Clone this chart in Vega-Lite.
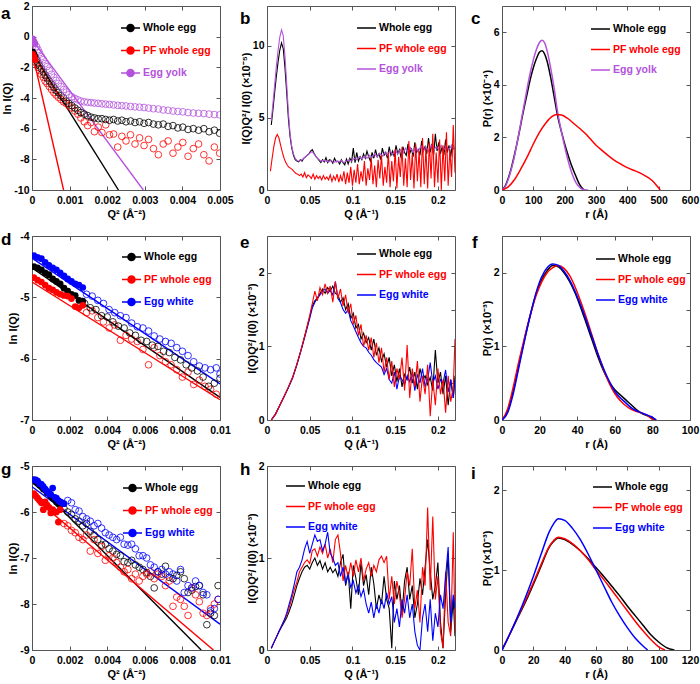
{
"$schema":"https://vega.github.io/schema/vega-lite/v6.json",
"padding":{"left":0,"top":0,"right":0,"bottom":0},
"background":"white",
"columns":3,
"bounds":"flush","spacing":{"row":46,"column":47},
"resolve":{"scale":{"color":"independent"}},
"config":{
 "font":"Liberation Sans",
 "view":{"stroke":"#555","strokeWidth":1},
 "axis":{"domain":false,"grid":false,"ticks":true,"tickSize":-4,"tickColor":"#555","tickWidth":1,"labelFont":"Liberation Sans","labelFontSize":10.5,"labelFontWeight":"bold","labelColor":"#000","labelPadding":7,"labelFlush":false,"labelOverlap":false,"titleFont":"Liberation Sans","titleFontSize":11,"titleFontWeight":"bold","titleColor":"#000","titlePadding":1},
 "axisX":{"labelPadding":9,"titlePadding":3},
 "legend":{"labelFont":"Liberation Sans","labelFontSize":10.5,"labelFontWeight":"bold","symbolSize":361,"symbolStrokeWidth":1.5,"labelOffset":2,"rowPadding":4.5,"padding":0},
 "title":{"font":"Liberation Sans","fontSize":17,"fontWeight":"bold","anchor":"start","frame":"group","offset":0,"baseline":"alphabetic","color":"#000"}
},
"datasets":{
"aFit":[{"s":"w","x":0.00002,"y":-1.07},{"s":"w","x":0.0023,"y":-10},{"s":"p","x":0.00002,"y":-1.2},{"s":"p","x":0.00084,"y":-10},{"s":"y","x":0.00002,"y":-0.26},{"s":"y","x":0.00296,"y":-10}],
"aIn":[{"s":"w","x":0.00002,"y":-1.0},{"s":"w","x":0.00005,"y":-1.15},{"s":"w","x":0.00008,"y":-1.3},{"s":"p","x":0.00002,"y":-1.15},{"s":"p","x":0.00005,"y":-1.3},{"s":"p","x":0.00008,"y":-1.5},{"s":"y","x":0.00002,"y":-0.15},{"s":"y","x":0.00005,"y":-0.3},{"s":"y","x":0.00008,"y":-0.45}],
"aOut":[
{"s":"p","x":0.00012,"y":-1.75},{"s":"p","x":0.00016,"y":-2.0},{"s":"p","x":0.0002,"y":-2.2},{"s":"p","x":0.00025,"y":-2.45},{"s":"p","x":0.0003,"y":-2.65},{"s":"p","x":0.00035,"y":-2.9},{"s":"p","x":0.0004,"y":-3.05},{"s":"p","x":0.00046,"y":-3.25},{"s":"p","x":0.00052,"y":-3.45},{"s":"p","x":0.00058,"y":-3.65},{"s":"p","x":0.00064,"y":-3.8},{"s":"p","x":0.0007,"y":-3.95},{"s":"p","x":0.00077,"y":-4.1},{"s":"p","x":0.00084,"y":-4.25},{"s":"p","x":0.00091,"y":-4.35},{"s":"p","x":0.00098,"y":-4.5},{"s":"p","x":0.00106,"y":-4.65},{"s":"p","x":0.00114,"y":-4.85},{"s":"p","x":0.00122,"y":-5.05},{"s":"p","x":0.0013,"y":-5.3},{"s":"p","x":0.00139,"y":-5.55},{"s":"p","x":0.00148,"y":-5.8},{"s":"p","x":0.00157,"y":-5.6},{"s":"p","x":0.00166,"y":-6.2},{"s":"p","x":0.00176,"y":-5.9},{"s":"p","x":0.00186,"y":-6.25},{"s":"p","x":0.00196,"y":-5.75},{"s":"p","x":0.00206,"y":-6.4},{"s":"p","x":0.00217,"y":-6.35},{"s":"p","x":0.00228,"y":-7.2},{"s":"p","x":0.00239,"y":-6.5},{"s":"p","x":0.0025,"y":-6.8},{"s":"p","x":0.00262,"y":-6.4},{"s":"p","x":0.00274,"y":-7.0},{"s":"p","x":0.00286,"y":-6.6},{"s":"p","x":0.00298,"y":-7.1},{"s":"p","x":0.0031,"y":-6.7},{"s":"p","x":0.00323,"y":-7.3},{"s":"p","x":0.00336,"y":-7.7},{"s":"p","x":0.00349,"y":-7.0},{"s":"p","x":0.00362,"y":-6.8},{"s":"p","x":0.00375,"y":-7.6},{"s":"p","x":0.00388,"y":-7.2},{"s":"p","x":0.00401,"y":-6.9},{"s":"p","x":0.00415,"y":-7.8},{"s":"p","x":0.00429,"y":-7.3},{"s":"p","x":0.00443,"y":-7.0},{"s":"p","x":0.00457,"y":-7.7},{"s":"p","x":0.00471,"y":-8.1},{"s":"p","x":0.00485,"y":-7.2},{"s":"p","x":0.00499,"y":-7.6},
{"s":"w","x":0.00012,"y":-1.5},{"s":"w","x":0.00016,"y":-1.7},{"s":"w","x":0.0002,"y":-1.9},{"s":"w","x":0.00025,"y":-2.1},{"s":"w","x":0.0003,"y":-2.3},{"s":"w","x":0.00035,"y":-2.5},{"s":"w","x":0.0004,"y":-2.7},{"s":"w","x":0.00046,"y":-2.9},{"s":"w","x":0.00052,"y":-3.1},{"s":"w","x":0.00058,"y":-3.3},{"s":"w","x":0.00064,"y":-3.5},{"s":"w","x":0.0007,"y":-3.65},{"s":"w","x":0.00077,"y":-3.85},{"s":"w","x":0.00084,"y":-4.0},{"s":"w","x":0.00091,"y":-4.2},{"s":"w","x":0.00098,"y":-4.35},{"s":"w","x":0.00106,"y":-4.5},{"s":"w","x":0.00114,"y":-4.65},{"s":"w","x":0.00122,"y":-4.8},{"s":"w","x":0.0013,"y":-4.95},{"s":"w","x":0.00139,"y":-5.05},{"s":"w","x":0.00148,"y":-5.15},{"s":"w","x":0.00157,"y":-5.25},{"s":"w","x":0.00166,"y":-5.3},{"s":"w","x":0.00176,"y":-5.35},{"s":"w","x":0.00186,"y":-5.35},{"s":"w","x":0.00196,"y":-5.4},{"s":"w","x":0.00206,"y":-5.45},{"s":"w","x":0.00217,"y":-5.4},{"s":"w","x":0.00228,"y":-5.5},{"s":"w","x":0.00239,"y":-5.45},{"s":"w","x":0.0025,"y":-5.55},{"s":"w","x":0.00262,"y":-5.5},{"s":"w","x":0.00274,"y":-5.6},{"s":"w","x":0.00286,"y":-5.55},{"s":"w","x":0.00298,"y":-5.65},{"s":"w","x":0.0031,"y":-5.6},{"s":"w","x":0.00323,"y":-5.7},{"s":"w","x":0.00336,"y":-5.75},{"s":"w","x":0.00349,"y":-5.7},{"s":"w","x":0.00362,"y":-5.85},{"s":"w","x":0.00375,"y":-5.8},{"s":"w","x":0.00388,"y":-5.95},{"s":"w","x":0.00401,"y":-5.9},{"s":"w","x":0.00415,"y":-6.05},{"s":"w","x":0.00429,"y":-6.0},{"s":"w","x":0.00443,"y":-6.1},{"s":"w","x":0.00457,"y":-6.0},{"s":"w","x":0.00471,"y":-6.2},{"s":"w","x":0.00485,"y":-6.1},{"s":"w","x":0.00499,"y":-6.3},
{"s":"y","x":0.00012,"y":-0.65},{"s":"y","x":0.00016,"y":-0.85},{"s":"y","x":0.0002,"y":-1.05},{"s":"y","x":0.00025,"y":-1.3},{"s":"y","x":0.0003,"y":-1.5},{"s":"y","x":0.00035,"y":-1.75},{"s":"y","x":0.0004,"y":-1.95},{"s":"y","x":0.00046,"y":-2.2},{"s":"y","x":0.00052,"y":-2.45},{"s":"y","x":0.00058,"y":-2.65},{"s":"y","x":0.00064,"y":-2.85},{"s":"y","x":0.0007,"y":-3.05},{"s":"y","x":0.00077,"y":-3.25},{"s":"y","x":0.00084,"y":-3.45},{"s":"y","x":0.00091,"y":-3.62},{"s":"y","x":0.00098,"y":-3.78},{"s":"y","x":0.00106,"y":-3.92},{"s":"y","x":0.00114,"y":-4.03},{"s":"y","x":0.00122,"y":-4.12},{"s":"y","x":0.0013,"y":-4.2},{"s":"y","x":0.00139,"y":-4.25},{"s":"y","x":0.00148,"y":-4.28},{"s":"y","x":0.00157,"y":-4.3},{"s":"y","x":0.00166,"y":-4.33},{"s":"y","x":0.00176,"y":-4.35},{"s":"y","x":0.00186,"y":-4.38},{"s":"y","x":0.00196,"y":-4.4},{"s":"y","x":0.00206,"y":-4.42},{"s":"y","x":0.00217,"y":-4.45},{"s":"y","x":0.00228,"y":-4.48},{"s":"y","x":0.00239,"y":-4.5},{"s":"y","x":0.0025,"y":-4.52},{"s":"y","x":0.00262,"y":-4.55},{"s":"y","x":0.00274,"y":-4.58},{"s":"y","x":0.00286,"y":-4.6},{"s":"y","x":0.00298,"y":-4.62},{"s":"y","x":0.0031,"y":-4.66},{"s":"y","x":0.00323,"y":-4.7},{"s":"y","x":0.00336,"y":-4.72},{"s":"y","x":0.00349,"y":-4.78},{"s":"y","x":0.00362,"y":-4.8},{"s":"y","x":0.00375,"y":-4.85},{"s":"y","x":0.00388,"y":-4.88},{"s":"y","x":0.00401,"y":-4.9},{"s":"y","x":0.00415,"y":-4.95},{"s":"y","x":0.00429,"y":-4.98},{"s":"y","x":0.00443,"y":-5.0},{"s":"y","x":0.00457,"y":-5.02},{"s":"y","x":0.00471,"y":-5.05},{"s":"y","x":0.00485,"y":-5.08},{"s":"y","x":0.00499,"y":-5.1}],
"b":[
{"s":"w","x":0.005,"y":4.5},{"s":"w","x":0.007,"y":5.6},{"s":"w","x":0.009,"y":6.8},{"s":"w","x":0.011,"y":7.9},{"s":"w","x":0.013,"y":8.9},{"s":"w","x":0.015,"y":9.7},{"s":"w","x":0.017,"y":10.2},{"s":"w","x":0.019,"y":9.8},{"s":"w","x":0.021,"y":8.5},{"s":"w","x":0.023,"y":6.8},{"s":"w","x":0.025,"y":5.0},{"s":"w","x":0.027,"y":3.7},{"s":"w","x":0.029,"y":2.9},{"s":"w","x":0.031,"y":2.4},{"s":"w","x":0.033,"y":2.1},{"s":"w","x":0.035,"y":2.0},{"s":"w","x":0.037,"y":1.95},{"s":"w","x":0.039,"y":2.1},{"s":"w","x":0.041,"y":2.0},{"s":"w","x":0.043,"y":2.2},{"s":"w","x":0.045,"y":2.3},{"s":"w","x":0.047,"y":2.4},{"s":"w","x":0.049,"y":2.5},{"s":"w","x":0.051,"y":2.7},{"s":"w","x":0.053,"y":2.8},{"s":"w","x":0.055,"y":2.55},{"s":"w","x":0.057,"y":2.35},{"s":"w","x":0.059,"y":2.2},{"s":"w","x":0.061,"y":2.05},{"s":"w","x":0.063,"y":1.9},{"s":"w","x":0.065,"y":2.1},{"s":"w","x":0.067,"y":1.95},{"s":"w","x":0.069,"y":2.25},{"s":"w","x":0.071,"y":1.9},{"s":"w","x":0.073,"y":2.1},{"s":"w","x":0.075,"y":2.05},{"s":"w","x":0.077,"y":1.85},{"s":"w","x":0.079,"y":2.2},{"s":"w","x":0.081,"y":1.95},{"s":"w","x":0.083,"y":2.0},{"s":"w","x":0.085,"y":1.8},{"s":"w","x":0.087,"y":2.1},{"s":"w","x":0.089,"y":1.9},{"s":"w","x":0.091,"y":1.75},{"s":"w","x":0.093,"y":2.15},{"s":"w","x":0.095,"y":1.8},{"s":"w","x":0.097,"y":2.2},{"s":"w","x":0.099,"y":1.95},{"s":"w","x":0.101,"y":2.9},{"s":"w","x":0.103,"y":1.9},{"s":"w","x":0.105,"y":2.6},{"s":"w","x":0.107,"y":2.0},{"s":"w","x":0.109,"y":2.3},{"s":"w","x":0.111,"y":2.1},{"s":"w","x":0.113,"y":2.5},{"s":"w","x":0.115,"y":2.2},{"s":"w","x":0.117,"y":2.7},{"s":"w","x":0.119,"y":2.3},{"s":"w","x":0.121,"y":2.0},{"s":"w","x":0.123,"y":2.6},{"s":"w","x":0.125,"y":2.2},{"s":"w","x":0.127,"y":2.8},{"s":"w","x":0.129,"y":2.3},{"s":"w","x":0.131,"y":2.5},{"s":"w","x":0.133,"y":2.1},{"s":"w","x":0.135,"y":2.9},{"s":"w","x":0.137,"y":2.4},{"s":"w","x":0.139,"y":2.6},{"s":"w","x":0.141,"y":2.2},{"s":"w","x":0.143,"y":3.0},{"s":"w","x":0.145,"y":2.4},{"s":"w","x":0.147,"y":2.7},{"s":"w","x":0.149,"y":2.3},{"s":"w","x":0.151,"y":3.1},{"s":"w","x":0.153,"y":2.5},{"s":"w","x":0.155,"y":2.8},{"s":"w","x":0.157,"y":2.2},{"s":"w","x":0.159,"y":3.0},{"s":"w","x":0.161,"y":2.6},{"s":"w","x":0.163,"y":2.4},{"s":"w","x":0.165,"y":3.2},{"s":"w","x":0.167,"y":2.5},{"s":"w","x":0.169,"y":2.9},{"s":"w","x":0.171,"y":2.3},{"s":"w","x":0.173,"y":3.3},{"s":"w","x":0.175,"y":2.6},{"s":"w","x":0.177,"y":2.8},{"s":"w","x":0.179,"y":2.4},{"s":"w","x":0.181,"y":3.4},{"s":"w","x":0.183,"y":2.7},{"s":"w","x":0.185,"y":3.0},{"s":"w","x":0.187,"y":2.5},{"s":"w","x":0.189,"y":3.6},{"s":"w","x":0.191,"y":2.6},{"s":"w","x":0.193,"y":3.2},{"s":"w","x":0.195,"y":2.4},{"s":"w","x":0.197,"y":3.9},{"s":"w","x":0.199,"y":2.7},{"s":"w","x":0.201,"y":3.3},{"s":"w","x":0.203,"y":2.5},{"s":"w","x":0.205,"y":3.0},{"s":"w","x":0.207,"y":2.4},{"s":"w","x":0.209,"y":3.5},{"s":"w","x":0.211,"y":2.6},{"s":"w","x":0.213,"y":3.1},{"s":"w","x":0.215,"y":2.3},{"s":"w","x":0.217,"y":3.2},{"s":"w","x":0.219,"y":2.8},
{"s":"y","x":0.005,"y":4.8},{"s":"y","x":0.007,"y":6.0},{"s":"y","x":0.009,"y":7.3},{"s":"y","x":0.011,"y":8.6},{"s":"y","x":0.013,"y":9.7},{"s":"y","x":0.015,"y":10.6},{"s":"y","x":0.017,"y":11.1},{"s":"y","x":0.019,"y":10.7},{"s":"y","x":0.021,"y":9.3},{"s":"y","x":0.023,"y":7.4},{"s":"y","x":0.025,"y":5.4},{"s":"y","x":0.027,"y":3.9},{"s":"y","x":0.029,"y":3.0},{"s":"y","x":0.031,"y":2.5},{"s":"y","x":0.033,"y":2.2},{"s":"y","x":0.035,"y":2.05},{"s":"y","x":0.037,"y":2.0},{"s":"y","x":0.039,"y":2.05},{"s":"y","x":0.041,"y":2.1},{"s":"y","x":0.043,"y":2.2},{"s":"y","x":0.045,"y":2.3},{"s":"y","x":0.047,"y":2.4},{"s":"y","x":0.049,"y":2.5},{"s":"y","x":0.051,"y":2.6},{"s":"y","x":0.053,"y":2.65},{"s":"y","x":0.055,"y":2.5},{"s":"y","x":0.057,"y":2.35},{"s":"y","x":0.059,"y":2.2},{"s":"y","x":0.061,"y":2.1},{"s":"y","x":0.063,"y":2.0},{"s":"y","x":0.066,"y":2.05},{"s":"y","x":0.069,"y":2.0},{"s":"y","x":0.072,"y":1.95},{"s":"y","x":0.075,"y":2.05},{"s":"y","x":0.078,"y":1.9},{"s":"y","x":0.081,"y":2.0},{"s":"y","x":0.084,"y":1.95},{"s":"y","x":0.087,"y":2.05},{"s":"y","x":0.09,"y":1.9},{"s":"y","x":0.093,"y":2.0},{"s":"y","x":0.096,"y":2.1},{"s":"y","x":0.099,"y":2.0},{"s":"y","x":0.102,"y":2.2},{"s":"y","x":0.105,"y":2.1},{"s":"y","x":0.108,"y":2.3},{"s":"y","x":0.111,"y":2.15},{"s":"y","x":0.114,"y":2.35},{"s":"y","x":0.117,"y":2.2},{"s":"y","x":0.12,"y":2.4},{"s":"y","x":0.123,"y":2.25},{"s":"y","x":0.126,"y":2.5},{"s":"y","x":0.129,"y":2.3},{"s":"y","x":0.132,"y":2.55},{"s":"y","x":0.135,"y":2.35},{"s":"y","x":0.138,"y":2.6},{"s":"y","x":0.141,"y":2.4},{"s":"y","x":0.144,"y":2.7},{"s":"y","x":0.147,"y":2.45},{"s":"y","x":0.15,"y":2.75},{"s":"y","x":0.153,"y":2.5},{"s":"y","x":0.156,"y":2.8},{"s":"y","x":0.159,"y":2.5},{"s":"y","x":0.162,"y":2.9},{"s":"y","x":0.165,"y":2.6},{"s":"y","x":0.168,"y":2.95},{"s":"y","x":0.171,"y":2.6},{"s":"y","x":0.174,"y":3.0},{"s":"y","x":0.177,"y":2.65},{"s":"y","x":0.18,"y":3.05},{"s":"y","x":0.183,"y":2.7},{"s":"y","x":0.186,"y":3.0},{"s":"y","x":0.189,"y":2.7},{"s":"y","x":0.192,"y":3.1},{"s":"y","x":0.195,"y":2.75},{"s":"y","x":0.198,"y":3.0},{"s":"y","x":0.201,"y":2.8},{"s":"y","x":0.204,"y":3.1},{"s":"y","x":0.207,"y":2.8},{"s":"y","x":0.21,"y":3.0},{"s":"y","x":0.213,"y":2.8},{"s":"y","x":0.216,"y":3.1},{"s":"y","x":0.219,"y":2.9},
{"s":"p","x":0.004,"y":1.3},{"s":"p","x":0.006,"y":2.2},{"s":"p","x":0.008,"y":3.0},{"s":"p","x":0.01,"y":3.6},{"s":"p","x":0.012,"y":3.85},{"s":"p","x":0.014,"y":3.6},{"s":"p","x":0.016,"y":3.1},{"s":"p","x":0.018,"y":2.6},{"s":"p","x":0.02,"y":2.2},{"s":"p","x":0.022,"y":1.9},{"s":"p","x":0.024,"y":1.7},{"s":"p","x":0.026,"y":1.55},{"s":"p","x":0.028,"y":1.5},{"s":"p","x":0.03,"y":1.4},{"s":"p","x":0.032,"y":1.25},{"s":"p","x":0.034,"y":1.15},{"s":"p","x":0.036,"y":1.1},{"s":"p","x":0.038,"y":1.0},{"s":"p","x":0.04,"y":1.1},{"s":"p","x":0.042,"y":0.9},{"s":"p","x":0.044,"y":1.2},{"s":"p","x":0.046,"y":0.85},{"s":"p","x":0.048,"y":1.05},{"s":"p","x":0.05,"y":0.95},{"s":"p","x":0.052,"y":0.8},{"s":"p","x":0.054,"y":1.1},{"s":"p","x":0.056,"y":0.75},{"s":"p","x":0.058,"y":1.0},{"s":"p","x":0.06,"y":0.8},{"s":"p","x":0.062,"y":0.95},{"s":"p","x":0.064,"y":0.7},{"s":"p","x":0.066,"y":1.0},{"s":"p","x":0.068,"y":0.75},{"s":"p","x":0.07,"y":0.9},{"s":"p","x":0.072,"y":0.7},{"s":"p","x":0.074,"y":1.05},{"s":"p","x":0.076,"y":0.6},{"s":"p","x":0.078,"y":0.95},{"s":"p","x":0.08,"y":0.7},{"s":"p","x":0.082,"y":1.1},{"s":"p","x":0.084,"y":0.55},{"s":"p","x":0.086,"y":1.0},{"s":"p","x":0.088,"y":0.6},{"s":"p","x":0.09,"y":1.3},{"s":"p","x":0.092,"y":0.4},{"s":"p","x":0.094,"y":1.2},{"s":"p","x":0.096,"y":0.5},{"s":"p","x":0.098,"y":1.6},{"s":"p","x":0.1,"y":0.3},{"s":"p","x":0.102,"y":1.4},{"s":"p","x":0.104,"y":0.5},{"s":"p","x":0.106,"y":1.8},{"s":"p","x":0.108,"y":0.4},{"s":"p","x":0.11,"y":1.3},{"s":"p","x":0.112,"y":0.6},{"s":"p","x":0.114,"y":2.0},{"s":"p","x":0.116,"y":0.3},{"s":"p","x":0.118,"y":1.5},{"s":"p","x":0.12,"y":0.7},{"s":"p","x":0.122,"y":2.2},{"s":"p","x":0.124,"y":0.4},{"s":"p","x":0.126,"y":1.7},{"s":"p","x":0.128,"y":0.2},{"s":"p","x":0.13,"y":2.1},{"s":"p","x":0.132,"y":0.8},{"s":"p","x":0.134,"y":2.4},{"s":"p","x":0.136,"y":0.3},{"s":"p","x":0.138,"y":1.6},{"s":"p","x":0.14,"y":0.5},{"s":"p","x":0.142,"y":2.6},{"s":"p","x":0.144,"y":0.2},{"s":"p","x":0.146,"y":2.0},{"s":"p","x":0.148,"y":0.6},{"s":"p","x":0.15,"y":2.8},{"s":"p","x":0.152,"y":0.1},{"s":"p","x":0.154,"y":2.3},{"s":"p","x":0.156,"y":0.9},{"s":"p","x":0.158,"y":3.0},{"s":"p","x":0.16,"y":0.3},{"s":"p","x":0.162,"y":2.2},{"s":"p","x":0.164,"y":0.2},{"s":"p","x":0.166,"y":3.4},{"s":"p","x":0.168,"y":0.7},{"s":"p","x":0.17,"y":2.5},{"s":"p","x":0.172,"y":0.1},{"s":"p","x":0.174,"y":3.2},{"s":"p","x":0.176,"y":0.6},{"s":"p","x":0.178,"y":2.7},{"s":"p","x":0.18,"y":0.2},{"s":"p","x":0.182,"y":3.6},{"s":"p","x":0.184,"y":0.4},{"s":"p","x":0.186,"y":2.9},{"s":"p","x":0.188,"y":0.1},{"s":"p","x":0.19,"y":3.3},{"s":"p","x":0.192,"y":0.8},{"s":"p","x":0.194,"y":3.9},{"s":"p","x":0.196,"y":0.2},{"s":"p","x":0.198,"y":2.6},{"s":"p","x":0.2,"y":0.5},{"s":"p","x":0.202,"y":3.5},{"s":"p","x":0.204,"y":0.0},{"s":"p","x":0.206,"y":3.1},{"s":"p","x":0.208,"y":0.6},{"s":"p","x":0.21,"y":4.0},{"s":"p","x":0.212,"y":0.3},{"s":"p","x":0.214,"y":2.8},{"s":"p","x":0.216,"y":0.9},{"s":"p","x":0.218,"y":4.5},{"s":"p","x":0.22,"y":1.2}],
"c":[
{"s":"w","x":0,"y":0},{"s":"w","x":10,"y":0.15},{"s":"w","x":20,"y":0.45},{"s":"w","x":30,"y":0.85},{"s":"w","x":40,"y":1.35},{"s":"w","x":50,"y":1.9},{"s":"w","x":60,"y":2.5},{"s":"w","x":70,"y":3.1},{"s":"w","x":80,"y":3.65},{"s":"w","x":90,"y":4.2},{"s":"w","x":100,"y":4.65},{"s":"w","x":110,"y":5.0},{"s":"w","x":120,"y":5.25},{"s":"w","x":128,"y":5.3},{"s":"w","x":135,"y":5.2},{"s":"w","x":145,"y":4.85},{"s":"w","x":155,"y":4.3},{"s":"w","x":165,"y":3.65},{"s":"w","x":177,"y":2.85},{"s":"w","x":190,"y":2.2},{"s":"w","x":205,"y":1.55},{"s":"w","x":220,"y":1.0},{"s":"w","x":235,"y":0.55},{"s":"w","x":248,"y":0.2},{"s":"w","x":260,"y":0.02},{"s":"w","x":265,"y":0},
{"s":"y","x":0,"y":0},{"s":"y","x":10,"y":0.12},{"s":"y","x":20,"y":0.4},{"s":"y","x":30,"y":0.8},{"s":"y","x":40,"y":1.3},{"s":"y","x":50,"y":1.9},{"s":"y","x":60,"y":2.55},{"s":"y","x":70,"y":3.2},{"s":"y","x":80,"y":3.85},{"s":"y","x":90,"y":4.45},{"s":"y","x":100,"y":4.95},{"s":"y","x":110,"y":5.35},{"s":"y","x":120,"y":5.62},{"s":"y","x":128,"y":5.7},{"s":"y","x":136,"y":5.6},{"s":"y","x":146,"y":5.2},{"s":"y","x":156,"y":4.6},{"s":"y","x":166,"y":3.9},{"s":"y","x":177,"y":3.0},{"s":"y","x":190,"y":2.2},{"s":"y","x":205,"y":1.4},{"s":"y","x":220,"y":0.75},{"s":"y","x":235,"y":0.3},{"s":"y","x":250,"y":0.08},{"s":"y","x":262,"y":0.01},{"s":"y","x":275,"y":0},
{"s":"p","x":0,"y":0},{"s":"p","x":20,"y":0.12},{"s":"p","x":40,"y":0.4},{"s":"p","x":60,"y":0.8},{"s":"p","x":80,"y":1.25},{"s":"p","x":100,"y":1.75},{"s":"p","x":120,"y":2.2},{"s":"p","x":140,"y":2.55},{"s":"p","x":160,"y":2.8},{"s":"p","x":175,"y":2.87},{"s":"p","x":190,"y":2.85},{"s":"p","x":210,"y":2.72},{"s":"p","x":230,"y":2.52},{"s":"p","x":250,"y":2.32},{"s":"p","x":270,"y":2.1},{"s":"p","x":285,"y":1.9},{"s":"p","x":300,"y":1.7},{"s":"p","x":320,"y":1.5},{"s":"p","x":340,"y":1.3},{"s":"p","x":360,"y":1.12},{"s":"p","x":380,"y":0.98},{"s":"p","x":400,"y":0.85},{"s":"p","x":420,"y":0.75},{"s":"p","x":440,"y":0.65},{"s":"p","x":460,"y":0.52},{"s":"p","x":480,"y":0.35},{"s":"p","x":495,"y":0.15},{"s":"p","x":505,"y":0}],
"dFit":[{"s":"w","x":0,"y":-4.52},{"s":"w","x":0.01,"y":-6.63},{"s":"p","x":0,"y":-4.75},{"s":"p","x":0.01,"y":-6.67},{"s":"e","x":0,"y":-4.36},{"s":"e","x":0.01,"y":-6.41}],
"dIn":[
{"s":"w","x":0.0001,"y":-4.5},{"s":"w","x":0.0003,"y":-4.52},{"s":"w","x":0.0005,"y":-4.55},{"s":"w","x":0.0007,"y":-4.6},{"s":"w","x":0.0009,"y":-4.63},{"s":"w","x":0.0011,"y":-4.7},{"s":"w","x":0.0013,"y":-4.74},{"s":"w","x":0.0015,"y":-4.78},{"s":"w","x":0.0017,"y":-4.85},{"s":"w","x":0.0019,"y":-4.9},{"s":"w","x":0.0021,"y":-4.95},{"s":"w","x":0.0023,"y":-4.97},{"s":"w","x":0.0025,"y":-5.05},{"s":"w","x":0.0027,"y":-5.06},
{"s":"p","x":0.0001,"y":-4.68},{"s":"p","x":0.0003,"y":-4.72},{"s":"p","x":0.0005,"y":-4.75},{"s":"p","x":0.0007,"y":-4.8},{"s":"p","x":0.0009,"y":-4.85},{"s":"p","x":0.0011,"y":-4.88},{"s":"p","x":0.0013,"y":-4.92},{"s":"p","x":0.0015,"y":-4.95},{"s":"p","x":0.0017,"y":-4.97},{"s":"p","x":0.0019,"y":-4.98},{"s":"p","x":0.0021,"y":-5.02},{"s":"p","x":0.0023,"y":-5.15},{"s":"p","x":0.0025,"y":-5.17},{"s":"p","x":0.0027,"y":-5.13},
{"s":"e","x":0.0001,"y":-4.32},{"s":"e","x":0.0003,"y":-4.35},{"s":"e","x":0.0005,"y":-4.37},{"s":"e","x":0.0007,"y":-4.43},{"s":"e","x":0.0009,"y":-4.48},{"s":"e","x":0.0011,"y":-4.52},{"s":"e","x":0.0013,"y":-4.55},{"s":"e","x":0.0015,"y":-4.6},{"s":"e","x":0.0017,"y":-4.65},{"s":"e","x":0.0019,"y":-4.7},{"s":"e","x":0.0021,"y":-4.74},{"s":"e","x":0.0023,"y":-4.78},{"s":"e","x":0.0025,"y":-4.8},{"s":"e","x":0.0027,"y":-4.84}],
"dOut":[
{"s":"p","x":0.0029,"y":-5.25},{"s":"p","x":0.0032,"y":-5.22},{"s":"p","x":0.0035,"y":-5.33},{"s":"p","x":0.0038,"y":-5.4},{"s":"p","x":0.0041,"y":-5.5},{"s":"p","x":0.0044,"y":-5.45},{"s":"p","x":0.0047,"y":-5.7},{"s":"p","x":0.005,"y":-5.62},{"s":"p","x":0.0053,"y":-5.68},{"s":"p","x":0.0056,"y":-5.72},{"s":"p","x":0.0059,"y":-5.85},{"s":"p","x":0.0062,"y":-6.1},{"s":"p","x":0.0065,"y":-5.82},{"s":"p","x":0.0068,"y":-5.95},{"s":"p","x":0.0071,"y":-6.05},{"s":"p","x":0.0074,"y":-6.1},{"s":"p","x":0.0077,"y":-6.18},{"s":"p","x":0.008,"y":-6.3},{"s":"p","x":0.0083,"y":-6.22},{"s":"p","x":0.0086,"y":-6.42},{"s":"p","x":0.0089,"y":-6.35},{"s":"p","x":0.0092,"y":-6.45},{"s":"p","x":0.0095,"y":-6.5},{"s":"p","x":0.0098,"y":-6.58},
{"s":"w","x":0.0028,"y":-5.1},{"s":"w","x":0.0031,"y":-5.17},{"s":"w","x":0.0034,"y":-5.2},{"s":"w","x":0.0037,"y":-5.3},{"s":"w","x":0.004,"y":-5.32},{"s":"w","x":0.0043,"y":-5.4},{"s":"w","x":0.0046,"y":-5.47},{"s":"w","x":0.0049,"y":-5.5},{"s":"w","x":0.0052,"y":-5.58},{"s":"w","x":0.0055,"y":-5.62},{"s":"w","x":0.0058,"y":-5.7},{"s":"w","x":0.0061,"y":-5.72},{"s":"w","x":0.0064,"y":-5.78},{"s":"w","x":0.0067,"y":-5.8},{"s":"w","x":0.007,"y":-5.88},{"s":"w","x":0.0073,"y":-5.9},{"s":"w","x":0.0076,"y":-5.98},{"s":"w","x":0.0079,"y":-6.02},{"s":"w","x":0.0082,"y":-6.1},{"s":"w","x":0.0085,"y":-6.15},{"s":"w","x":0.0088,"y":-6.2},{"s":"w","x":0.0091,"y":-6.3},{"s":"w","x":0.0094,"y":-6.45},{"s":"w","x":0.0097,"y":-6.4},{"s":"w","x":0.01,"y":-6.32},
{"s":"e","x":0.0029,"y":-4.95},{"s":"e","x":0.0032,"y":-4.98},{"s":"e","x":0.0035,"y":-5.05},{"s":"e","x":0.0038,"y":-5.1},{"s":"e","x":0.0041,"y":-5.2},{"s":"e","x":0.0044,"y":-5.25},{"s":"e","x":0.0047,"y":-5.3},{"s":"e","x":0.005,"y":-5.33},{"s":"e","x":0.0053,"y":-5.42},{"s":"e","x":0.0056,"y":-5.48},{"s":"e","x":0.0059,"y":-5.5},{"s":"e","x":0.0062,"y":-5.55},{"s":"e","x":0.0065,"y":-5.63},{"s":"e","x":0.0068,"y":-5.68},{"s":"e","x":0.0071,"y":-5.72},{"s":"e","x":0.0074,"y":-5.75},{"s":"e","x":0.0077,"y":-5.82},{"s":"e","x":0.008,"y":-5.88},{"s":"e","x":0.0083,"y":-5.95},{"s":"e","x":0.0086,"y":-6.05},{"s":"e","x":0.0089,"y":-6.12},{"s":"e","x":0.0092,"y":-6.15},{"s":"e","x":0.0095,"y":-6.18},{"s":"e","x":0.0098,"y":-6.15},{"s":"e","x":0.01,"y":-6.25}],
"e":[
{"s":"w","x":0.005,"y":0},{"s":"w","x":0.01,"y":0.08},{"s":"w","x":0.015,"y":0.2},{"s":"w","x":0.02,"y":0.32},{"s":"w","x":0.025,"y":0.44},{"s":"w","x":0.03,"y":0.58},{"s":"w","x":0.035,"y":0.76},{"s":"w","x":0.04,"y":0.96},{"s":"w","x":0.045,"y":1.18},{"s":"w","x":0.05,"y":1.4},{"s":"w","x":0.053,"y":1.55},{"s":"w","x":0.056,"y":1.62},{"s":"w","x":0.059,"y":1.66},{"s":"w","x":0.062,"y":1.72},{"s":"w","x":0.065,"y":1.78},{"s":"w","x":0.068,"y":1.72},{"s":"w","x":0.071,"y":1.8},{"s":"w","x":0.074,"y":1.75},{"s":"w","x":0.077,"y":1.82},{"s":"w","x":0.08,"y":1.72},{"s":"w","x":0.083,"y":1.7},{"s":"w","x":0.086,"y":1.6},{"s":"w","x":0.089,"y":1.66},{"s":"w","x":0.092,"y":1.5},{"s":"w","x":0.095,"y":1.58},{"s":"w","x":0.098,"y":1.38},{"s":"w","x":0.101,"y":1.45},{"s":"w","x":0.104,"y":1.25},{"s":"w","x":0.107,"y":1.3},{"s":"w","x":0.11,"y":1.1},{"s":"w","x":0.113,"y":1.18},{"s":"w","x":0.116,"y":1.05},{"s":"w","x":0.119,"y":1.12},{"s":"w","x":0.122,"y":0.95},{"s":"w","x":0.125,"y":1.1},{"s":"w","x":0.128,"y":0.88},{"s":"w","x":0.131,"y":0.98},{"s":"w","x":0.134,"y":0.8},{"s":"w","x":0.137,"y":0.9},{"s":"w","x":0.14,"y":0.72},{"s":"w","x":0.143,"y":0.85},{"s":"w","x":0.146,"y":0.6},{"s":"w","x":0.149,"y":0.75},{"s":"w","x":0.152,"y":0.52},{"s":"w","x":0.155,"y":0.7},{"s":"w","x":0.158,"y":0.45},{"s":"w","x":0.161,"y":0.62},{"s":"w","x":0.164,"y":0.55},{"s":"w","x":0.167,"y":0.72},{"s":"w","x":0.17,"y":0.5},{"s":"w","x":0.173,"y":0.65},{"s":"w","x":0.176,"y":0.42},{"s":"w","x":0.179,"y":0.7},{"s":"w","x":0.182,"y":0.55},{"s":"w","x":0.185,"y":0.6},{"s":"w","x":0.188,"y":0.48},{"s":"w","x":0.191,"y":0.58},{"s":"w","x":0.194,"y":0.4},{"s":"w","x":0.197,"y":0.95},{"s":"w","x":0.2,"y":0.5},{"s":"w","x":0.203,"y":0.65},{"s":"w","x":0.206,"y":0.35},{"s":"w","x":0.209,"y":0.6},{"s":"w","x":0.212,"y":0.2},{"s":"w","x":0.215,"y":0.55},{"s":"w","x":0.218,"y":0.3},{"s":"w","x":0.22,"y":0.6},
{"s":"e","x":0.005,"y":0},{"s":"e","x":0.01,"y":0.08},{"s":"e","x":0.015,"y":0.2},{"s":"e","x":0.02,"y":0.32},{"s":"e","x":0.025,"y":0.44},{"s":"e","x":0.03,"y":0.57},{"s":"e","x":0.035,"y":0.75},{"s":"e","x":0.04,"y":0.95},{"s":"e","x":0.045,"y":1.16},{"s":"e","x":0.05,"y":1.38},{"s":"e","x":0.053,"y":1.52},{"s":"e","x":0.056,"y":1.6},{"s":"e","x":0.059,"y":1.65},{"s":"e","x":0.062,"y":1.7},{"s":"e","x":0.065,"y":1.75},{"s":"e","x":0.068,"y":1.78},{"s":"e","x":0.071,"y":1.72},{"s":"e","x":0.074,"y":1.76},{"s":"e","x":0.077,"y":1.7},{"s":"e","x":0.08,"y":1.88},{"s":"e","x":0.083,"y":1.65},{"s":"e","x":0.086,"y":1.6},{"s":"e","x":0.089,"y":1.5},{"s":"e","x":0.092,"y":1.45},{"s":"e","x":0.095,"y":1.5},{"s":"e","x":0.098,"y":1.35},{"s":"e","x":0.101,"y":1.28},{"s":"e","x":0.104,"y":1.2},{"s":"e","x":0.107,"y":1.12},{"s":"e","x":0.11,"y":1.05},{"s":"e","x":0.113,"y":1.0},{"s":"e","x":0.116,"y":0.98},{"s":"e","x":0.119,"y":0.92},{"s":"e","x":0.122,"y":0.88},{"s":"e","x":0.125,"y":0.82},{"s":"e","x":0.128,"y":0.78},{"s":"e","x":0.131,"y":0.75},{"s":"e","x":0.134,"y":0.72},{"s":"e","x":0.137,"y":0.62},{"s":"e","x":0.14,"y":0.7},{"s":"e","x":0.143,"y":0.55},{"s":"e","x":0.146,"y":0.5},{"s":"e","x":0.149,"y":0.65},{"s":"e","x":0.152,"y":0.42},{"s":"e","x":0.155,"y":0.6},{"s":"e","x":0.158,"y":0.55},{"s":"e","x":0.161,"y":0.48},{"s":"e","x":0.164,"y":0.6},{"s":"e","x":0.167,"y":0.52},{"s":"e","x":0.17,"y":0.65},{"s":"e","x":0.173,"y":0.4},{"s":"e","x":0.176,"y":0.62},{"s":"e","x":0.179,"y":0.5},{"s":"e","x":0.182,"y":0.7},{"s":"e","x":0.185,"y":0.45},{"s":"e","x":0.188,"y":0.55},{"s":"e","x":0.191,"y":0.78},{"s":"e","x":0.194,"y":0.5},{"s":"e","x":0.197,"y":0.6},{"s":"e","x":0.2,"y":0.42},{"s":"e","x":0.203,"y":0.55},{"s":"e","x":0.206,"y":0.5},{"s":"e","x":0.209,"y":0.68},{"s":"e","x":0.212,"y":0.38},{"s":"e","x":0.215,"y":0.55},{"s":"e","x":0.218,"y":0.3},{"s":"e","x":0.22,"y":0.55},
{"s":"p","x":0.005,"y":0},{"s":"p","x":0.01,"y":0.08},{"s":"p","x":0.015,"y":0.2},{"s":"p","x":0.02,"y":0.32},{"s":"p","x":0.025,"y":0.45},{"s":"p","x":0.03,"y":0.58},{"s":"p","x":0.035,"y":0.76},{"s":"p","x":0.04,"y":0.96},{"s":"p","x":0.045,"y":1.18},{"s":"p","x":0.05,"y":1.42},{"s":"p","x":0.053,"y":1.58},{"s":"p","x":0.056,"y":1.75},{"s":"p","x":0.059,"y":1.62},{"s":"p","x":0.062,"y":1.8},{"s":"p","x":0.065,"y":1.7},{"s":"p","x":0.068,"y":1.85},{"s":"p","x":0.071,"y":1.72},{"s":"p","x":0.074,"y":1.82},{"s":"p","x":0.077,"y":1.6},{"s":"p","x":0.08,"y":1.88},{"s":"p","x":0.083,"y":1.65},{"s":"p","x":0.086,"y":1.78},{"s":"p","x":0.089,"y":1.55},{"s":"p","x":0.092,"y":1.7},{"s":"p","x":0.095,"y":1.45},{"s":"p","x":0.098,"y":1.58},{"s":"p","x":0.101,"y":1.3},{"s":"p","x":0.104,"y":1.42},{"s":"p","x":0.107,"y":1.15},{"s":"p","x":0.11,"y":1.3},{"s":"p","x":0.113,"y":1.0},{"s":"p","x":0.116,"y":1.15},{"s":"p","x":0.119,"y":0.95},{"s":"p","x":0.122,"y":1.12},{"s":"p","x":0.125,"y":0.85},{"s":"p","x":0.128,"y":1.05},{"s":"p","x":0.131,"y":0.78},{"s":"p","x":0.134,"y":0.98},{"s":"p","x":0.137,"y":0.65},{"s":"p","x":0.14,"y":0.85},{"s":"p","x":0.143,"y":0.55},{"s":"p","x":0.146,"y":0.8},{"s":"p","x":0.149,"y":0.45},{"s":"p","x":0.152,"y":0.7},{"s":"p","x":0.155,"y":0.55},{"s":"p","x":0.158,"y":0.85},{"s":"p","x":0.161,"y":0.4},{"s":"p","x":0.164,"y":1.02},{"s":"p","x":0.167,"y":0.3},{"s":"p","x":0.17,"y":0.7},{"s":"p","x":0.173,"y":0.45},{"s":"p","x":0.176,"y":0.8},{"s":"p","x":0.179,"y":0.25},{"s":"p","x":0.182,"y":0.6},{"s":"p","x":0.185,"y":0.35},{"s":"p","x":0.188,"y":0.75},{"s":"p","x":0.191,"y":0.05},{"s":"p","x":0.194,"y":0.55},{"s":"p","x":0.197,"y":0.2},{"s":"p","x":0.2,"y":0.7},{"s":"p","x":0.203,"y":0.35},{"s":"p","x":0.206,"y":0.55},{"s":"p","x":0.209,"y":0.1},{"s":"p","x":0.212,"y":0.6},{"s":"p","x":0.215,"y":0.25},{"s":"p","x":0.218,"y":0.45},{"s":"p","x":0.22,"y":1.1}],
"f":[
{"s":"w","x":0,"y":0},{"s":"w","x":3,"y":0.12},{"s":"w","x":6,"y":0.4},{"s":"w","x":9,"y":0.75},{"s":"w","x":12,"y":1.1},{"s":"w","x":15,"y":1.42},{"s":"w","x":18,"y":1.7},{"s":"w","x":21,"y":1.9},{"s":"w","x":24,"y":2.03},{"s":"w","x":27,"y":2.1},{"s":"w","x":30,"y":2.08},{"s":"w","x":33,"y":2.0},{"s":"w","x":36,"y":1.88},{"s":"w","x":39,"y":1.72},{"s":"w","x":42,"y":1.52},{"s":"w","x":45,"y":1.3},{"s":"w","x":48,"y":1.08},{"s":"w","x":51,"y":0.86},{"s":"w","x":54,"y":0.67},{"s":"w","x":57,"y":0.52},{"s":"w","x":60,"y":0.41},{"s":"w","x":63,"y":0.34},{"s":"w","x":66,"y":0.27},{"s":"w","x":69,"y":0.2},{"s":"w","x":72,"y":0.13},{"s":"w","x":75,"y":0.08},{"s":"w","x":78,"y":0.05},{"s":"w","x":81,"y":0.01},{"s":"w","x":82,"y":0},
{"s":"p","x":0,"y":0},{"s":"p","x":3,"y":0.15},{"s":"p","x":6,"y":0.45},{"s":"p","x":9,"y":0.8},{"s":"p","x":12,"y":1.12},{"s":"p","x":15,"y":1.42},{"s":"p","x":18,"y":1.68},{"s":"p","x":21,"y":1.87},{"s":"p","x":24,"y":2.0},{"s":"p","x":27,"y":2.07},{"s":"p","x":30,"y":2.1},{"s":"p","x":33,"y":2.06},{"s":"p","x":36,"y":1.96},{"s":"p","x":39,"y":1.8},{"s":"p","x":42,"y":1.6},{"s":"p","x":45,"y":1.38},{"s":"p","x":48,"y":1.14},{"s":"p","x":51,"y":0.9},{"s":"p","x":54,"y":0.69},{"s":"p","x":57,"y":0.5},{"s":"p","x":60,"y":0.36},{"s":"p","x":63,"y":0.26},{"s":"p","x":66,"y":0.19},{"s":"p","x":69,"y":0.14},{"s":"p","x":72,"y":0.11},{"s":"p","x":75,"y":0.09},{"s":"p","x":78,"y":0.05},{"s":"p","x":80,"y":0.01},{"s":"p","x":81,"y":0},
{"s":"e","x":0,"y":0},{"s":"e","x":3,"y":0.1},{"s":"e","x":6,"y":0.36},{"s":"e","x":9,"y":0.72},{"s":"e","x":12,"y":1.08},{"s":"e","x":15,"y":1.42},{"s":"e","x":18,"y":1.72},{"s":"e","x":21,"y":1.94},{"s":"e","x":24,"y":2.07},{"s":"e","x":27,"y":2.12},{"s":"e","x":30,"y":2.1},{"s":"e","x":33,"y":2.02},{"s":"e","x":36,"y":1.9},{"s":"e","x":39,"y":1.74},{"s":"e","x":42,"y":1.55},{"s":"e","x":45,"y":1.34},{"s":"e","x":48,"y":1.12},{"s":"e","x":51,"y":0.9},{"s":"e","x":54,"y":0.7},{"s":"e","x":57,"y":0.53},{"s":"e","x":60,"y":0.39},{"s":"e","x":63,"y":0.3},{"s":"e","x":66,"y":0.23},{"s":"e","x":69,"y":0.16},{"s":"e","x":72,"y":0.12},{"s":"e","x":75,"y":0.09},{"s":"e","x":78,"y":0.06},{"s":"e","x":81,"y":0.02},{"s":"e","x":82,"y":0}],
"gFit":[{"s":"w","x":0,"y":-5.3},{"s":"w","x":0.009,"y":-9},{"s":"p","x":0,"y":-5.65},{"s":"p","x":0.00965,"y":-9},{"s":"e","x":0,"y":-5.45},{"s":"e","x":0.01,"y":-8.44}],
"gIn":[
{"s":"w","x":0.0001,"y":-5.3},{"s":"w","x":0.0002,"y":-5.35},{"s":"w","x":0.0003,"y":-5.38},{"s":"w","x":0.0004,"y":-5.42},{"s":"w","x":0.0005,"y":-5.45},{"s":"w","x":0.0006,"y":-5.5},{"s":"w","x":0.0007,"y":-5.52},{"s":"w","x":0.0008,"y":-5.58},{"s":"w","x":0.0009,"y":-5.6},{"s":"w","x":0.001,"y":-5.65},{"s":"w","x":0.0011,"y":-5.7},{"s":"w","x":0.0012,"y":-5.73},{"s":"w","x":0.0013,"y":-5.78},{"s":"w","x":0.0014,"y":-5.82},{"s":"w","x":0.0015,"y":-5.85},
{"s":"p","x":0.0001,"y":-5.6},{"s":"p","x":0.0002,"y":-5.65},{"s":"p","x":0.0003,"y":-5.7},{"s":"p","x":0.0004,"y":-5.75},{"s":"p","x":0.0005,"y":-5.8},{"s":"p","x":0.0006,"y":-5.95},{"s":"p","x":0.0007,"y":-5.78},{"s":"p","x":0.0008,"y":-5.85},{"s":"p","x":0.0009,"y":-5.9},{"s":"p","x":0.001,"y":-6.02},{"s":"p","x":0.0011,"y":-5.95},{"s":"p","x":0.0012,"y":-6.0},{"s":"p","x":0.0013,"y":-6.0},{"s":"p","x":0.0014,"y":-6.22},{"s":"p","x":0.0015,"y":-5.95},
{"s":"e","x":0.0001,"y":-5.3},{"s":"e","x":0.0002,"y":-5.3},{"s":"e","x":0.0003,"y":-5.33},{"s":"e","x":0.0004,"y":-5.38},{"s":"e","x":0.0005,"y":-5.4},{"s":"e","x":0.0006,"y":-5.45},{"s":"e","x":0.0007,"y":-5.5},{"s":"e","x":0.0008,"y":-5.55},{"s":"e","x":0.0009,"y":-5.6},{"s":"e","x":0.001,"y":-5.62},{"s":"e","x":0.0011,"y":-5.48},{"s":"e","x":0.0012,"y":-5.68},{"s":"e","x":0.0013,"y":-5.7},{"s":"e","x":0.0014,"y":-5.75},{"s":"e","x":0.0015,"y":-5.78},{"s":"e","x":0.0016,"y":-5.8},{"s":"e","x":0.0017,"y":-5.82}],
"gOut":[
{"s":"w","x":0.0017,"y":-5.92},{"s":"w","x":0.0019,"y":-6.0},{"s":"w","x":0.0021,"y":-6.05},{"s":"w","x":0.0023,"y":-6.15},{"s":"w","x":0.0025,"y":-6.2},{"s":"w","x":0.0027,"y":-6.3},{"s":"w","x":0.0029,"y":-6.25},{"s":"w","x":0.0031,"y":-6.42},{"s":"w","x":0.0033,"y":-6.5},{"s":"w","x":0.0035,"y":-6.6},{"s":"w","x":0.0037,"y":-6.72},{"s":"w","x":0.0039,"y":-6.7},{"s":"w","x":0.0041,"y":-6.8},{"s":"w","x":0.0043,"y":-6.85},{"s":"w","x":0.0045,"y":-6.92},{"s":"w","x":0.0047,"y":-6.95},{"s":"w","x":0.0049,"y":-7.08},{"s":"w","x":0.0051,"y":-7.1},{"s":"w","x":0.0053,"y":-7.05},{"s":"w","x":0.0055,"y":-7.15},{"s":"w","x":0.0057,"y":-7.2},{"s":"w","x":0.0059,"y":-7.25},{"s":"w","x":0.0061,"y":-7.32},{"s":"w","x":0.0063,"y":-7.4},{"s":"w","x":0.0065,"y":-7.65},{"s":"w","x":0.0067,"y":-7.3},{"s":"w","x":0.0069,"y":-7.35},{"s":"w","x":0.0071,"y":-7.18},{"s":"w","x":0.0073,"y":-7.42},{"s":"w","x":0.0075,"y":-7.45},{"s":"w","x":0.0077,"y":-7.38},{"s":"w","x":0.0079,"y":-7.3},{"s":"w","x":0.0081,"y":-7.45},{"s":"w","x":0.0083,"y":-7.75},{"s":"w","x":0.0085,"y":-7.7},{"s":"w","x":0.0087,"y":-7.62},{"s":"w","x":0.0089,"y":-7.6},{"s":"w","x":0.0091,"y":-7.8},{"s":"w","x":0.0093,"y":-8.45},{"s":"w","x":0.0095,"y":-8.2},{"s":"w","x":0.0097,"y":-8.25},{"s":"w","x":0.0099,"y":-7.6},
{"s":"p","x":0.0017,"y":-6.25},{"s":"p","x":0.0019,"y":-6.3},{"s":"p","x":0.0021,"y":-6.4},{"s":"p","x":0.0023,"y":-6.45},{"s":"p","x":0.0025,"y":-6.55},{"s":"p","x":0.0027,"y":-6.6},{"s":"p","x":0.0029,"y":-6.5},{"s":"p","x":0.0031,"y":-6.85},{"s":"p","x":0.0033,"y":-6.6},{"s":"p","x":0.0035,"y":-6.9},{"s":"p","x":0.0037,"y":-6.75},{"s":"p","x":0.0039,"y":-7.05},{"s":"p","x":0.0041,"y":-6.95},{"s":"p","x":0.0043,"y":-7.0},{"s":"p","x":0.0045,"y":-7.1},{"s":"p","x":0.0047,"y":-7.2},{"s":"p","x":0.0049,"y":-7.3},{"s":"p","x":0.0051,"y":-7.25},{"s":"p","x":0.0053,"y":-7.45},{"s":"p","x":0.0055,"y":-7.35},{"s":"p","x":0.0057,"y":-7.5},{"s":"p","x":0.0059,"y":-7.4},{"s":"p","x":0.0061,"y":-7.35},{"s":"p","x":0.0063,"y":-7.3},{"s":"p","x":0.0065,"y":-7.45},{"s":"p","x":0.0067,"y":-7.35},{"s":"p","x":0.0069,"y":-7.4},{"s":"p","x":0.0071,"y":-7.6},{"s":"p","x":0.0073,"y":-7.5},{"s":"p","x":0.0075,"y":-8.05},{"s":"p","x":0.0077,"y":-7.85},{"s":"p","x":0.0079,"y":-7.9},{"s":"p","x":0.0081,"y":-8.05},{"s":"p","x":0.0083,"y":-8.25},{"s":"p","x":0.0085,"y":-7.65},{"s":"p","x":0.0087,"y":-7.8},{"s":"p","x":0.0089,"y":-7.95},{"s":"p","x":0.0091,"y":-8.2},{"s":"p","x":0.0093,"y":-8.25},{"s":"p","x":0.0095,"y":-8.1},{"s":"p","x":0.0097,"y":-8.0},{"s":"p","x":0.0099,"y":-7.9},
{"s":"e","x":0.0019,"y":-5.75},{"s":"e","x":0.0021,"y":-5.8},{"s":"e","x":0.0023,"y":-5.95},{"s":"e","x":0.0025,"y":-5.98},{"s":"e","x":0.0027,"y":-6.1},{"s":"e","x":0.0029,"y":-6.15},{"s":"e","x":0.0031,"y":-6.2},{"s":"e","x":0.0033,"y":-6.3},{"s":"e","x":0.0035,"y":-6.25},{"s":"e","x":0.0037,"y":-6.35},{"s":"e","x":0.0039,"y":-6.45},{"s":"e","x":0.0041,"y":-6.5},{"s":"e","x":0.0043,"y":-6.55},{"s":"e","x":0.0045,"y":-6.6},{"s":"e","x":0.0047,"y":-6.55},{"s":"e","x":0.0049,"y":-6.7},{"s":"e","x":0.0051,"y":-6.72},{"s":"e","x":0.0053,"y":-6.7},{"s":"e","x":0.0055,"y":-6.8},{"s":"e","x":0.0057,"y":-6.95},{"s":"e","x":0.0059,"y":-6.95},{"s":"e","x":0.0061,"y":-7.0},{"s":"e","x":0.0063,"y":-7.15},{"s":"e","x":0.0065,"y":-7.2},{"s":"e","x":0.0067,"y":-7.3},{"s":"e","x":0.0069,"y":-7.25},{"s":"e","x":0.0071,"y":-7.35},{"s":"e","x":0.0073,"y":-7.3},{"s":"e","x":0.0075,"y":-7.35},{"s":"e","x":0.0077,"y":-7.5},{"s":"e","x":0.0079,"y":-7.25},{"s":"e","x":0.0081,"y":-7.75},{"s":"e","x":0.0083,"y":-7.6},{"s":"e","x":0.0085,"y":-7.65},{"s":"e","x":0.0087,"y":-7.5},{"s":"e","x":0.0089,"y":-7.6},{"s":"e","x":0.0091,"y":-7.75},{"s":"e","x":0.0093,"y":-7.8},{"s":"e","x":0.0095,"y":-8.15},{"s":"e","x":0.0097,"y":-8.1},{"s":"e","x":0.0099,"y":-7.9}],
"h":[
{"s":"w","x":0.005,"y":0.02},{"s":"w","x":0.008,"y":0.08},{"s":"w","x":0.011,"y":0.14},{"s":"w","x":0.014,"y":0.2},{"s":"w","x":0.017,"y":0.25},{"s":"w","x":0.02,"y":0.3},{"s":"w","x":0.023,"y":0.35},{"s":"w","x":0.026,"y":0.42},{"s":"w","x":0.029,"y":0.5},{"s":"w","x":0.032,"y":0.6},{"s":"w","x":0.035,"y":0.7},{"s":"w","x":0.038,"y":0.78},{"s":"w","x":0.041,"y":0.85},{"s":"w","x":0.044,"y":0.9},{"s":"w","x":0.047,"y":0.92},{"s":"w","x":0.05,"y":0.88},{"s":"w","x":0.053,"y":0.95},{"s":"w","x":0.056,"y":1.0},{"s":"w","x":0.059,"y":0.92},{"s":"w","x":0.062,"y":0.97},{"s":"w","x":0.065,"y":0.88},{"s":"w","x":0.068,"y":0.95},{"s":"w","x":0.071,"y":0.85},{"s":"w","x":0.074,"y":0.9},{"s":"w","x":0.077,"y":0.84},{"s":"w","x":0.08,"y":0.88},{"s":"w","x":0.083,"y":0.8},{"s":"w","x":0.086,"y":0.95},{"s":"w","x":0.089,"y":1.04},{"s":"w","x":0.092,"y":0.7},{"s":"w","x":0.095,"y":0.85},{"s":"w","x":0.098,"y":0.45},{"s":"w","x":0.101,"y":0.92},{"s":"w","x":0.104,"y":0.78},{"s":"w","x":0.107,"y":0.6},{"s":"w","x":0.11,"y":0.95},{"s":"w","x":0.113,"y":0.7},{"s":"w","x":0.116,"y":0.82},{"s":"w","x":0.119,"y":0.6},{"s":"w","x":0.122,"y":0.9},{"s":"w","x":0.125,"y":0.72},{"s":"w","x":0.128,"y":0.45},{"s":"w","x":0.131,"y":0.6},{"s":"w","x":0.134,"y":0.5},{"s":"w","x":0.137,"y":0.8},{"s":"w","x":0.14,"y":0.55},{"s":"w","x":0.143,"y":0.45},{"s":"w","x":0.146,"y":0.02},{"s":"w","x":0.149,"y":0.75},{"s":"w","x":0.152,"y":0.55},{"s":"w","x":0.155,"y":0.7},{"s":"w","x":0.158,"y":0.4},{"s":"w","x":0.161,"y":0.75},{"s":"w","x":0.164,"y":0.9},{"s":"w","x":0.167,"y":0.55},{"s":"w","x":0.17,"y":0.7},{"s":"w","x":0.173,"y":0.35},{"s":"w","x":0.176,"y":0.5},{"s":"w","x":0.179,"y":0.78},{"s":"w","x":0.182,"y":0.6},{"s":"w","x":0.185,"y":0.9},{"s":"w","x":0.188,"y":1.2},{"s":"w","x":0.191,"y":0.85},{"s":"w","x":0.194,"y":0.55},{"s":"w","x":0.197,"y":0.7},{"s":"w","x":0.2,"y":0.95},{"s":"w","x":0.203,"y":0.3},{"s":"w","x":0.206,"y":0.02},{"s":"w","x":0.209,"y":0.6},{"s":"w","x":0.212,"y":1.05},{"s":"w","x":0.215,"y":0.2},{"s":"w","x":0.218,"y":0.55},{"s":"w","x":0.22,"y":0.15},
{"s":"p","x":0.005,"y":0.02},{"s":"p","x":0.008,"y":0.08},{"s":"p","x":0.011,"y":0.14},{"s":"p","x":0.014,"y":0.2},{"s":"p","x":0.017,"y":0.26},{"s":"p","x":0.02,"y":0.32},{"s":"p","x":0.023,"y":0.38},{"s":"p","x":0.026,"y":0.46},{"s":"p","x":0.029,"y":0.56},{"s":"p","x":0.032,"y":0.66},{"s":"p","x":0.035,"y":0.74},{"s":"p","x":0.038,"y":0.85},{"s":"p","x":0.041,"y":0.9},{"s":"p","x":0.044,"y":0.95},{"s":"p","x":0.047,"y":0.98},{"s":"p","x":0.05,"y":0.94},{"s":"p","x":0.053,"y":1.08},{"s":"p","x":0.056,"y":1.1},{"s":"p","x":0.059,"y":1.02},{"s":"p","x":0.062,"y":1.12},{"s":"p","x":0.065,"y":1.05},{"s":"p","x":0.068,"y":1.15},{"s":"p","x":0.071,"y":1.0},{"s":"p","x":0.074,"y":1.1},{"s":"p","x":0.077,"y":0.95},{"s":"p","x":0.08,"y":1.2},{"s":"p","x":0.083,"y":1.25},{"s":"p","x":0.086,"y":1.05},{"s":"p","x":0.089,"y":0.75},{"s":"p","x":0.092,"y":0.92},{"s":"p","x":0.095,"y":0.78},{"s":"p","x":0.098,"y":0.95},{"s":"p","x":0.101,"y":0.8},{"s":"p","x":0.104,"y":0.98},{"s":"p","x":0.107,"y":0.85},{"s":"p","x":0.11,"y":1.0},{"s":"p","x":0.113,"y":0.75},{"s":"p","x":0.116,"y":0.88},{"s":"p","x":0.119,"y":0.95},{"s":"p","x":0.122,"y":0.8},{"s":"p","x":0.125,"y":0.92},{"s":"p","x":0.128,"y":0.85},{"s":"p","x":0.131,"y":0.98},{"s":"p","x":0.134,"y":1.02},{"s":"p","x":0.137,"y":0.95},{"s":"p","x":0.14,"y":1.02},{"s":"p","x":0.143,"y":0.55},{"s":"p","x":0.146,"y":0.8},{"s":"p","x":0.149,"y":0.5},{"s":"p","x":0.152,"y":0.75},{"s":"p","x":0.155,"y":0.6},{"s":"p","x":0.158,"y":0.35},{"s":"p","x":0.161,"y":0.55},{"s":"p","x":0.164,"y":0.85},{"s":"p","x":0.167,"y":0.7},{"s":"p","x":0.17,"y":1.1},{"s":"p","x":0.173,"y":0.45},{"s":"p","x":0.176,"y":0.65},{"s":"p","x":0.179,"y":0.3},{"s":"p","x":0.182,"y":0.9},{"s":"p","x":0.185,"y":0.7},{"s":"p","x":0.188,"y":1.55},{"s":"p","x":0.191,"y":0.65},{"s":"p","x":0.194,"y":1.45},{"s":"p","x":0.197,"y":0.55},{"s":"p","x":0.2,"y":0.8},{"s":"p","x":0.203,"y":0.2},{"s":"p","x":0.206,"y":0.02},{"s":"p","x":0.209,"y":0.85},{"s":"p","x":0.212,"y":0.3},{"s":"p","x":0.215,"y":0.15},{"s":"p","x":0.218,"y":1.28},{"s":"p","x":0.22,"y":0.2},
{"s":"e","x":0.005,"y":0.02},{"s":"e","x":0.008,"y":0.08},{"s":"e","x":0.011,"y":0.14},{"s":"e","x":0.014,"y":0.2},{"s":"e","x":0.017,"y":0.26},{"s":"e","x":0.02,"y":0.32},{"s":"e","x":0.023,"y":0.4},{"s":"e","x":0.026,"y":0.5},{"s":"e","x":0.029,"y":0.6},{"s":"e","x":0.032,"y":0.72},{"s":"e","x":0.035,"y":0.85},{"s":"e","x":0.038,"y":0.9},{"s":"e","x":0.041,"y":0.98},{"s":"e","x":0.044,"y":1.1},{"s":"e","x":0.047,"y":1.18},{"s":"e","x":0.05,"y":1.05},{"s":"e","x":0.053,"y":1.15},{"s":"e","x":0.056,"y":1.25},{"s":"e","x":0.059,"y":1.18},{"s":"e","x":0.062,"y":1.2},{"s":"e","x":0.065,"y":1.08},{"s":"e","x":0.068,"y":1.15},{"s":"e","x":0.071,"y":1.28},{"s":"e","x":0.074,"y":1.05},{"s":"e","x":0.077,"y":1.0},{"s":"e","x":0.08,"y":0.92},{"s":"e","x":0.083,"y":0.95},{"s":"e","x":0.086,"y":0.8},{"s":"e","x":0.089,"y":0.9},{"s":"e","x":0.092,"y":0.72},{"s":"e","x":0.095,"y":0.82},{"s":"e","x":0.098,"y":0.68},{"s":"e","x":0.101,"y":0.75},{"s":"e","x":0.104,"y":0.62},{"s":"e","x":0.107,"y":0.7},{"s":"e","x":0.11,"y":0.58},{"s":"e","x":0.113,"y":0.66},{"s":"e","x":0.116,"y":0.5},{"s":"e","x":0.119,"y":0.4},{"s":"e","x":0.122,"y":0.52},{"s":"e","x":0.125,"y":0.35},{"s":"e","x":0.128,"y":0.5},{"s":"e","x":0.131,"y":0.4},{"s":"e","x":0.134,"y":0.55},{"s":"e","x":0.137,"y":0.45},{"s":"e","x":0.14,"y":0.62},{"s":"e","x":0.143,"y":0.5},{"s":"e","x":0.146,"y":0.58},{"s":"e","x":0.149,"y":0.3},{"s":"e","x":0.152,"y":0.45},{"s":"e","x":0.155,"y":0.25},{"s":"e","x":0.158,"y":0.55},{"s":"e","x":0.161,"y":0.4},{"s":"e","x":0.164,"y":0.6},{"s":"e","x":0.167,"y":0.35},{"s":"e","x":0.17,"y":0.5},{"s":"e","x":0.173,"y":0.2},{"s":"e","x":0.176,"y":0.05},{"s":"e","x":0.179,"y":0.0},{"s":"e","x":0.182,"y":0.35},{"s":"e","x":0.185,"y":0.5},{"s":"e","x":0.188,"y":0.2},{"s":"e","x":0.191,"y":0.55},{"s":"e","x":0.194,"y":0.1},{"s":"e","x":0.197,"y":0.4},{"s":"e","x":0.2,"y":0.25},{"s":"e","x":0.203,"y":0.6},{"s":"e","x":0.206,"y":0.45},{"s":"e","x":0.209,"y":0.8},{"s":"e","x":0.212,"y":1.12},{"s":"e","x":0.215,"y":0.3},{"s":"e","x":0.218,"y":0.6},{"s":"e","x":0.22,"y":0.45}],
"i":[
{"s":"w","x":0,"y":0},{"s":"w","x":5,"y":0.2},{"s":"w","x":10,"y":0.4},{"s":"w","x":15,"y":0.6},{"s":"w","x":20,"y":0.82},{"s":"w","x":25,"y":1.05},{"s":"w","x":30,"y":1.28},{"s":"w","x":33,"y":1.36},{"s":"w","x":36,"y":1.4},{"s":"w","x":40,"y":1.38},{"s":"w","x":45,"y":1.32},{"s":"w","x":50,"y":1.24},{"s":"w","x":55,"y":1.14},{"s":"w","x":60,"y":1.03},{"s":"w","x":65,"y":0.92},{"s":"w","x":70,"y":0.8},{"s":"w","x":75,"y":0.68},{"s":"w","x":80,"y":0.55},{"s":"w","x":85,"y":0.43},{"s":"w","x":90,"y":0.31},{"s":"w","x":95,"y":0.19},{"s":"w","x":100,"y":0.1},{"s":"w","x":105,"y":0.03},{"s":"w","x":110,"y":0},
{"s":"p","x":0,"y":0},{"s":"p","x":5,"y":0.2},{"s":"p","x":10,"y":0.41},{"s":"p","x":15,"y":0.62},{"s":"p","x":20,"y":0.84},{"s":"p","x":25,"y":1.07},{"s":"p","x":30,"y":1.29},{"s":"p","x":33,"y":1.37},{"s":"p","x":36,"y":1.41},{"s":"p","x":40,"y":1.39},{"s":"p","x":45,"y":1.33},{"s":"p","x":50,"y":1.24},{"s":"p","x":55,"y":1.13},{"s":"p","x":60,"y":1.0},{"s":"p","x":65,"y":0.88},{"s":"p","x":70,"y":0.75},{"s":"p","x":75,"y":0.62},{"s":"p","x":80,"y":0.49},{"s":"p","x":85,"y":0.36},{"s":"p","x":90,"y":0.24},{"s":"p","x":95,"y":0.13},{"s":"p","x":100,"y":0.04},{"s":"p","x":104,"y":0},
{"s":"e","x":0,"y":0},{"s":"e","x":5,"y":0.2},{"s":"e","x":10,"y":0.42},{"s":"e","x":15,"y":0.66},{"s":"e","x":20,"y":0.92},{"s":"e","x":25,"y":1.2},{"s":"e","x":30,"y":1.47},{"s":"e","x":33,"y":1.58},{"s":"e","x":36,"y":1.64},{"s":"e","x":40,"y":1.62},{"s":"e","x":45,"y":1.52},{"s":"e","x":50,"y":1.38},{"s":"e","x":55,"y":1.2},{"s":"e","x":60,"y":1.0},{"s":"e","x":65,"y":0.8},{"s":"e","x":70,"y":0.6},{"s":"e","x":75,"y":0.43},{"s":"e","x":80,"y":0.28},{"s":"e","x":85,"y":0.15},{"s":"e","x":90,"y":0.05},{"s":"e","x":93,"y":0}]
},
"concat":[
 {"width":188,"height":184,"title":{"text":"a","dx":-31,"dy":26},"resolve":{"axis":{"x":"independent","y":"independent"}},
  "layer":[
   {"data":{"name":"aFit"},"mark":{"type":"line","strokeWidth":1.4,"clip":true},
    "encoding":{
     "x":{"field":"x","type":"quantitative","scale":{"domain":[0,0.005],"nice":false,"zero":false},"axis":{"title":"Q² (Å⁻²)","values":[0,0.001,0.002,0.003,0.004,0.005],"labelOverlap":false,"labelExpr":"format(datum.value,'~g')"}},
     "y":{"field":"y","type":"quantitative","scale":{"domain":[-10,2],"nice":false,"zero":false},"axis":{"title":"ln I(Q)","values":[-10,-8,-6,-4,-2,0,2],"labelOverlap":false,"labelExpr":"replace(format(datum.value,'~g'),'−','-')"}},
     "color":{"field":"s","type":"nominal","scale":{"domain":["w","p","y"],"range":["#000000","#ff0000","#b452dc"]},
      "legend":{"title":null,"orient":"none","legendX":88,"legendY":11.5,"symbolType":"M-1,0H1M-0.37,0A0.37,0.37,0,1,1,0.37,0A0.37,0.37,0,1,1,-0.37,0Z","labelExpr":"datum.value=='w'?'Whole egg':datum.value=='p'?'PF whole egg':'Egg yolk'","labelColor":{"expr":"datum.value=='w'?'#000000':datum.value=='p'?'#ff0000':'#b452dc'"},"symbolFillColor":{"expr":"datum.value=='w'?'#000000':datum.value=='p'?'#ff0000':'#b452dc'"}}}}},
   {"data":{"name":"aOut"},"mark":{"type":"point","filled":false,"size":45,"strokeWidth":0.8,"opacity":1,"clip":true},
    "encoding":{"x":{"field":"x","type":"quantitative","axis":null},"y":{"field":"y","type":"quantitative","axis":null},"color":{"field":"s","type":"nominal","legend":null}}},
   {"data":{"name":"aIn"},"mark":{"type":"point","filled":true,"size":45,"opacity":1,"clip":true},
    "encoding":{"x":{"field":"x","type":"quantitative","axis":null},"y":{"field":"y","type":"quantitative","axis":null},"color":{"field":"s","type":"nominal","legend":null}}},
   {"data":{"values":[{}]},"mark":{"type":"point","opacity":0},
    "encoding":{"x":{"datum":0,"type":"quantitative","axis":{"orient":"top","labels":false,"title":null,"values":[0,0.001,0.002,0.003,0.004,0.005]}},"y":{"datum":0,"type":"quantitative","axis":{"orient":"right","labels":false,"title":null,"values":[-10,-8,-6,-4,-2,0,2]}}}}
  ]},
 {"width":188,"height":184,"title":{"text":"b","dx":-27,"dy":26},"resolve":{"axis":{"x":"independent","y":"independent"}},
  "layer":[
   {"data":{"name":"b"},"mark":{"type":"line","strokeWidth":1.1,"clip":true},
    "encoding":{
     "x":{"field":"x","type":"quantitative","scale":{"domain":[0,0.22],"nice":false,"zero":false},"axis":{"title":"Q (Å⁻¹)","values":[0,0.05,0.1,0.15,0.2],"labelOverlap":false,"labelExpr":"format(datum.value,'~g')"}},
     "y":{"field":"y","type":"quantitative","scale":{"domain":[0,12.75],"nice":false},"axis":{"title":"I(Q)Q²/ I(0)  (×10⁻⁵)","values":[0,5,10],"labelOverlap":false,"labelExpr":"format(datum.value,'~g')"}},
     "color":{"field":"s","type":"nominal","scale":{"domain":["w","p","y"],"range":["#000000","#ff0000","#b452dc"]},
      "legend":{"title":null,"orient":"none","legendX":89,"legendY":11.5,"symbolType":"stroke","labelExpr":"datum.value=='w'?'Whole egg':datum.value=='p'?'PF whole egg':'Egg yolk'","labelColor":{"expr":"datum.value=='w'?'#000000':datum.value=='p'?'#ff0000':'#b452dc'"}}}}},
   {"data":{"values":[{}]},"mark":{"type":"point","opacity":0},
    "encoding":{"x":{"datum":0,"type":"quantitative","axis":{"orient":"top","labels":false,"title":null,"values":[0,0.05,0.1,0.15,0.2]}},"y":{"datum":0,"type":"quantitative","axis":{"orient":"right","labels":false,"title":null,"values":[0,5,10]}}}}
  ]},
 {"width":188,"height":184,"title":{"text":"c","dx":-31,"dy":26},"resolve":{"axis":{"x":"independent","y":"independent"}},
  "layer":[
   {"data":{"name":"c"},"mark":{"type":"line","strokeWidth":1.5,"interpolate":"monotone","clip":true},
    "encoding":{
     "x":{"field":"x","type":"quantitative","scale":{"domain":[0,600],"nice":false},"axis":{"title":"r (Å)","values":[0,100,200,300,400,500,600],"labelOverlap":false,"labelExpr":"format(datum.value,'~g')"}},
     "y":{"field":"y","type":"quantitative","scale":{"domain":[0,7],"nice":false},"axis":{"title":"P(r) (×10⁻⁴)","values":[0,2,4,6],"labelOverlap":false,"labelExpr":"format(datum.value,'~g')"}},
     "color":{"field":"s","type":"nominal","scale":{"domain":["w","p","y"],"range":["#000000","#ff0000","#b452dc"]},
      "legend":{"title":null,"orient":"none","legendX":88,"legendY":12.5,"symbolType":"stroke","labelExpr":"datum.value=='w'?'Whole egg':datum.value=='p'?'PF whole egg':'Egg yolk'","labelColor":{"expr":"datum.value=='w'?'#000000':datum.value=='p'?'#ff0000':'#b452dc'"}}}}},
   {"data":{"values":[{}]},"mark":{"type":"point","opacity":0},
    "encoding":{"x":{"datum":0,"type":"quantitative","axis":{"orient":"top","labels":false,"title":null,"values":[0,100,200,300,400,500,600]}},"y":{"datum":0,"type":"quantitative","axis":{"orient":"right","labels":false,"title":null,"values":[0,2,4,6]}}}}
  ]},
 {"width":188,"height":184,"title":{"text":"d","dx":-31,"dy":22},"resolve":{"axis":{"x":"independent","y":"independent"}},
  "layer":[
   {"data":{"name":"dFit"},"mark":{"type":"line","strokeWidth":1.4,"clip":true},
    "encoding":{
     "x":{"field":"x","type":"quantitative","scale":{"domain":[0,0.01],"nice":false,"zero":false},"axis":{"title":"Q² (Å⁻²)","values":[0,0.002,0.004,0.006,0.008,0.01],"labelOverlap":false,"labelExpr":"format(datum.value,'~g')"}},
     "y":{"field":"y","type":"quantitative","scale":{"domain":[-7,-4],"nice":false,"zero":false},"axis":{"title":"ln I(Q)","values":[-7,-6,-5,-4],"labelOverlap":false,"labelExpr":"replace(format(datum.value,'~g'),'−','-')"}},
     "color":{"field":"s","type":"nominal","scale":{"domain":["w","p","e"],"range":["#000000","#ff0000","#0000ff"]},
      "legend":{"title":null,"orient":"none","legendX":89,"legendY":10.5,"symbolType":"M-1,0H1M-0.37,0A0.37,0.37,0,1,1,0.37,0A0.37,0.37,0,1,1,-0.37,0Z","labelExpr":"datum.value=='w'?'Whole egg':datum.value=='p'?'PF whole egg':'Egg white'","labelColor":{"expr":"datum.value=='w'?'#000000':datum.value=='p'?'#ff0000':'#0000ff'"},"symbolFillColor":{"expr":"datum.value=='w'?'#000000':datum.value=='p'?'#ff0000':'#0000ff'"}}}}},
   {"data":{"name":"dOut"},"mark":{"type":"point","filled":false,"size":45,"strokeWidth":0.8,"opacity":1,"clip":true},
    "encoding":{"x":{"field":"x","type":"quantitative","axis":null},"y":{"field":"y","type":"quantitative","axis":null},"color":{"field":"s","type":"nominal","legend":null}}},
   {"data":{"name":"dIn"},"mark":{"type":"point","filled":true,"size":45,"opacity":1,"clip":true},
    "encoding":{"x":{"field":"x","type":"quantitative","axis":null},"y":{"field":"y","type":"quantitative","axis":null},"color":{"field":"s","type":"nominal","legend":null}}},
   {"data":{"values":[{}]},"mark":{"type":"point","opacity":0},
    "encoding":{"x":{"datum":0,"type":"quantitative","axis":{"orient":"top","labels":false,"title":null,"values":[0,0.002,0.004,0.006,0.008,0.01]}},"y":{"datum":-5,"type":"quantitative","axis":{"orient":"right","labels":false,"title":null,"values":[-7,-6,-5,-4]}}}}
  ]},
 {"width":188,"height":184,"title":{"text":"e","dx":-27,"dy":20},"resolve":{"axis":{"x":"independent","y":"independent"}},
  "layer":[
   {"data":{"name":"e"},"mark":{"type":"line","strokeWidth":1.1,"clip":true},
    "encoding":{
     "x":{"field":"x","type":"quantitative","scale":{"domain":[0,0.22],"nice":false,"zero":false},"axis":{"title":"Q (Å⁻¹)","values":[0,0.05,0.1,0.15,0.2],"labelOverlap":false,"labelExpr":"format(datum.value,'~g')"}},
     "y":{"field":"y","type":"quantitative","scale":{"domain":[0,2.5],"nice":false},"axis":{"title":"I(Q)Q²/ I(0)  (×10⁻³)","values":[0,1,2],"labelOverlap":false,"labelExpr":"format(datum.value,'~g')"}},
     "color":{"field":"s","type":"nominal","scale":{"domain":["w","p","e"],"range":["#000000","#ff0000","#0000ff"]},
      "legend":{"title":null,"orient":"none","legendX":89,"legendY":7.5,"symbolType":"stroke","labelExpr":"datum.value=='w'?'Whole egg':datum.value=='p'?'PF whole egg':'Egg white'","labelColor":{"expr":"datum.value=='w'?'#000000':datum.value=='p'?'#ff0000':'#0000ff'"}}}}},
   {"data":{"values":[{}]},"mark":{"type":"point","opacity":0},
    "encoding":{"x":{"datum":0,"type":"quantitative","axis":{"orient":"top","labels":false,"title":null,"values":[0,0.05,0.1,0.15,0.2]}},"y":{"datum":0,"type":"quantitative","axis":{"orient":"right","labels":false,"title":null,"values":[0,0.5,1,1.5,2]}}}}
  ]},
 {"width":188,"height":184,"title":{"text":"f","dx":-30,"dy":20},"resolve":{"axis":{"x":"independent","y":"independent"}},
  "layer":[
   {"data":{"name":"f"},"mark":{"type":"line","strokeWidth":1.5,"interpolate":"monotone","clip":true},
    "encoding":{
     "x":{"field":"x","type":"quantitative","scale":{"domain":[0,100],"nice":false},"axis":{"title":"r (Å)","values":[0,20,40,60,80,100],"labelOverlap":false,"labelExpr":"format(datum.value,'~g')"}},
     "y":{"field":"y","type":"quantitative","scale":{"domain":[0,2.5],"nice":false},"axis":{"title":"P(r) (×10⁻³)","values":[0,1,2],"labelOverlap":false,"labelExpr":"format(datum.value,'~g')"}},
     "color":{"field":"s","type":"nominal","scale":{"domain":["w","p","e"],"range":["#000000","#ff0000","#0000ff"]},
      "legend":{"title":null,"orient":"none","legendX":93,"legendY":12.5,"symbolType":"stroke","labelExpr":"datum.value=='w'?'Whole egg':datum.value=='p'?'PF whole egg':'Egg white'","labelColor":{"expr":"datum.value=='w'?'#000000':datum.value=='p'?'#ff0000':'#0000ff'"}}}}},
   {"data":{"values":[{}]},"mark":{"type":"point","opacity":0},
    "encoding":{"x":{"datum":0,"type":"quantitative","axis":{"orient":"top","labels":false,"title":null,"values":[0,20,40,60,80,100]}},"y":{"datum":0,"type":"quantitative","axis":{"orient":"right","labels":false,"title":null,"values":[0,0.5,1,1.5,2]}}}}
  ]},
 {"width":188,"height":184,"title":{"text":"g","dx":-31,"dy":22},"resolve":{"axis":{"x":"independent","y":"independent"}},
  "layer":[
   {"data":{"name":"gFit"},"mark":{"type":"line","strokeWidth":1.4,"clip":true},
    "encoding":{
     "x":{"field":"x","type":"quantitative","scale":{"domain":[0,0.01],"nice":false,"zero":false},"axis":{"title":"Q² (Å⁻²)","values":[0,0.002,0.004,0.006,0.008,0.01],"labelOverlap":false,"labelExpr":"format(datum.value,'~g')"}},
     "y":{"field":"y","type":"quantitative","scale":{"domain":[-9,-5],"nice":false,"zero":false},"axis":{"title":"ln I(Q)","values":[-9,-8,-7,-6,-5],"labelOverlap":false,"labelExpr":"replace(format(datum.value,'~g'),'−','-')"}},
     "color":{"field":"s","type":"nominal","scale":{"domain":["w","p","e"],"range":["#000000","#ff0000","#0000ff"]},
      "legend":{"title":null,"orient":"none","legendX":90,"legendY":11.5,"symbolType":"M-1,0H1M-0.37,0A0.37,0.37,0,1,1,0.37,0A0.37,0.37,0,1,1,-0.37,0Z","labelExpr":"datum.value=='w'?'Whole egg':datum.value=='p'?'PF whole egg':'Egg white'","labelColor":{"expr":"datum.value=='w'?'#000000':datum.value=='p'?'#ff0000':'#0000ff'"},"symbolFillColor":{"expr":"datum.value=='w'?'#000000':datum.value=='p'?'#ff0000':'#0000ff'"}}}}},
   {"data":{"name":"gOut"},"mark":{"type":"point","filled":false,"size":45,"strokeWidth":0.8,"opacity":1,"clip":true},
    "encoding":{"x":{"field":"x","type":"quantitative","axis":null},"y":{"field":"y","type":"quantitative","axis":null},"color":{"field":"s","type":"nominal","legend":null}}},
   {"data":{"name":"gIn"},"mark":{"type":"point","filled":true,"size":45,"opacity":1,"clip":true},
    "encoding":{"x":{"field":"x","type":"quantitative","axis":null},"y":{"field":"y","type":"quantitative","axis":null},"color":{"field":"s","type":"nominal","legend":null}}},
   {"data":{"values":[{}]},"mark":{"type":"point","opacity":0},
    "encoding":{"x":{"datum":0,"type":"quantitative","axis":{"orient":"top","labels":false,"title":null,"values":[0,0.002,0.004,0.006,0.008,0.01]}},"y":{"datum":-6,"type":"quantitative","axis":{"orient":"right","labels":false,"title":null,"values":[-9,-8,-7,-6,-5]}}}}
  ]},
 {"width":188,"height":184,"title":{"text":"h","dx":-27,"dy":22},"resolve":{"axis":{"x":"independent","y":"independent"}},
  "layer":[
   {"data":{"name":"h"},"mark":{"type":"line","strokeWidth":1.1,"clip":true},
    "encoding":{
     "x":{"field":"x","type":"quantitative","scale":{"domain":[0,0.22],"nice":false,"zero":false},"axis":{"title":"Q (Å⁻¹)","values":[0,0.05,0.1,0.15,0.2],"labelOverlap":false,"labelExpr":"format(datum.value,'~g')"}},
     "y":{"field":"y","type":"quantitative","scale":{"domain":[0,2],"nice":false},"axis":{"title":"I(Q)Q²/ I(0)  (×10⁻³)","values":[0,1,2],"labelOverlap":false,"labelExpr":"format(datum.value,'~g')"}},
     "color":{"field":"s","type":"nominal","scale":{"domain":["w","p","e"],"range":["#000000","#ff0000","#0000ff"]},
      "legend":{"title":null,"orient":"none","legendX":18,"legendY":9.5,"symbolType":"stroke","labelExpr":"datum.value=='w'?'Whole egg':datum.value=='p'?'PF whole egg':'Egg white'","labelColor":{"expr":"datum.value=='w'?'#000000':datum.value=='p'?'#ff0000':'#0000ff'"}}}}},
   {"data":{"values":[{}]},"mark":{"type":"point","opacity":0},
    "encoding":{"x":{"datum":0,"type":"quantitative","axis":{"orient":"top","labels":false,"title":null,"values":[0,0.05,0.1,0.15,0.2]}},"y":{"datum":0,"type":"quantitative","axis":{"orient":"right","labels":false,"title":null,"values":[0,0.5,1,1.5,2]}}}}
  ]},
 {"width":188,"height":184,"title":{"text":"i","dx":-31,"dy":21},"resolve":{"axis":{"x":"independent","y":"independent"}},
  "layer":[
   {"data":{"name":"i"},"mark":{"type":"line","strokeWidth":1.5,"interpolate":"monotone","clip":true},
    "encoding":{
     "x":{"field":"x","type":"quantitative","scale":{"domain":[0,120],"nice":false},"axis":{"title":"r (Å)","values":[0,20,40,60,80,100,120],"labelOverlap":false,"labelExpr":"format(datum.value,'~g')"}},
     "y":{"field":"y","type":"quantitative","scale":{"domain":[0,2.3],"nice":false},"axis":{"title":"P(r) (×10⁻³)","values":[0,1,2],"labelOverlap":false,"labelExpr":"format(datum.value,'~g')"}},
     "color":{"field":"s","type":"nominal","scale":{"domain":["w","p","e"],"range":["#000000","#ff0000","#0000ff"]},
      "legend":{"title":null,"orient":"none","legendX":90,"legendY":10.5,"symbolType":"stroke","labelExpr":"datum.value=='w'?'Whole egg':datum.value=='p'?'PF whole egg':'Egg white'","labelColor":{"expr":"datum.value=='w'?'#000000':datum.value=='p'?'#ff0000':'#0000ff'"}}}}},
   {"data":{"values":[{}]},"mark":{"type":"point","opacity":0},
    "encoding":{"x":{"datum":0,"type":"quantitative","axis":{"orient":"top","labels":false,"title":null,"values":[0,20,40,60,80,100,120]}},"y":{"datum":0,"type":"quantitative","axis":{"orient":"right","labels":false,"title":null,"values":[0,0.5,1,1.5,2]}}}}
  ]}
]
}
